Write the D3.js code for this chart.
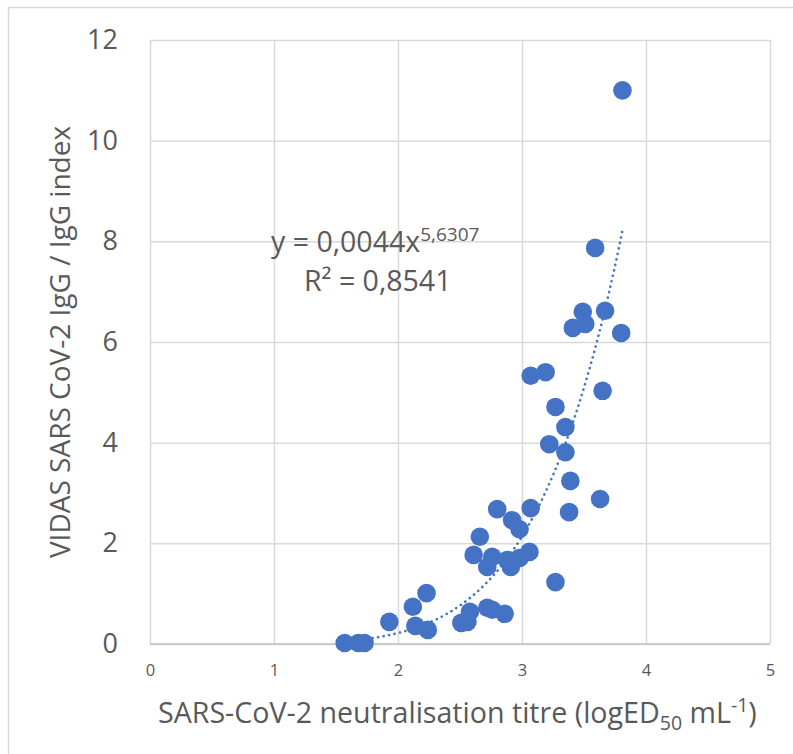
<!DOCTYPE html>
<html>
<head>
<meta charset="utf-8">
<script src="https://cdn.jsdelivr.net/npm/d3@7"></script>
<style>
  body { margin: 0; background: #fff; }
  text { font-family: "Open Sans", sans-serif; fill: #595959; }
</style>
</head>
<body>
<div id="chart"></div>
<script>
// titre values (logED50 mL-1)
let titre = [1.57, 1.68, 1.73, 1.93, 2.12, 2.23, 2.14, 2.24, 2.51, 2.56, 2.58, 2.72, 2.76, 2.86,
    2.66, 2.61, 2.76, 2.72, 2.88, 2.91, 2.98, 3.06, 2.80, 2.92, 2.98, 3.07, 3.27, 3.38, 3.39,
    3.63, 3.22, 3.35, 3.35, 3.27, 3.07, 3.19, 3.65, 3.41, 3.51, 3.49, 3.67, 3.80, 3.59, 3.81];
// VIDAS IgG index
let igg = [0.02, 0.02, 0.02, 0.44, 0.74, 1.01, 0.36, 0.28, 0.42, 0.44, 0.64, 0.72, 0.68, 0.60,
    2.13, 1.77, 1.73, 1.53, 1.67, 1.53, 1.71, 1.83, 2.68, 2.46, 2.28, 2.70, 1.23, 2.62, 3.24,
    2.88, 3.97, 3.81, 4.31, 4.71, 5.33, 5.40, 5.03, 6.28, 6.36, 6.60, 6.62, 6.18, 7.87, 11.0];

let xTicks = [0, 1, 2, 3, 4, 5];
let yTicks = [0, 2, 4, 6, 8, 10, 12];

// power trendline y = a * x^b
let trendA = 0.0044;
let trendB = 5.6307;

let svgWidth = 793;
let svgHeight = 754;

let chartMargin = { top: 40, right: 23, bottom: 110, left: 150 };
let chartWidth = 620;
let chartHeight = 604;

let svg = d3.select("#chart")
    .append("svg")
    .attr("width", svgWidth)
    .attr("height", svgHeight);

// outer frame
svg.append("rect")
    .attr("x", 8.5).attr("y", 7.5)
    .attr("width", 790).attr("height", 760)
    .attr("fill", "none")
    .attr("stroke", "#d9d9d9")
    .attr("stroke-width", 1.5);

let chartGroup = svg.append("g")
    .attr("transform", `translate(${chartMargin.left}, ${chartMargin.top})`);

let xLinearScale = d3.scaleLinear().domain([0, 5]).range([0, chartWidth]);
let yLinearScale = d3.scaleLinear().domain([0, 12]).range([chartHeight, 0]);

// gridlines
chartGroup.append("g")
    .call(d3.axisBottom(xLinearScale).tickValues(xTicks).tickSize(chartHeight).tickFormat(""))
    .call(g => g.select(".domain").remove())
    .selectAll("line").attr("stroke", "#d9d9d9").attr("stroke-width", 1.5);

chartGroup.append("g")
    .call(d3.axisLeft(yLinearScale).tickValues(yTicks).tickSize(-chartWidth).tickFormat(""))
    .call(g => g.select(".domain").remove())
    .selectAll("line").attr("stroke", "#d9d9d9").attr("stroke-width", 1.5);

// axis line
chartGroup.append("line")
    .attr("x1", 0).attr("x2", chartWidth)
    .attr("y1", chartHeight).attr("y2", chartHeight)
    .attr("stroke", "#bfbfbf").attr("stroke-width", 1.5);

// tick labels
let bottomAxis = chartGroup.append("g")
    .attr("transform", `translate(0, ${chartHeight})`)
    .call(d3.axisBottom(xLinearScale).tickValues(xTicks).tickSize(0).tickPadding(20).tickFormat(d3.format("d")));
bottomAxis.select(".domain").remove();
bottomAxis.selectAll("text")
    .style("font-size", "16.5px")
    .style("fill", "#595959");

let leftAxis = chartGroup.append("g")
    .call(d3.axisLeft(yLinearScale).tickValues(yTicks).tickSize(0).tickPadding(32));
leftAxis.select(".domain").remove();
leftAxis.selectAll("text")
    .style("font-size", "27px")
    .style("fill", "#595959");

// trendline (dotted)
let trendX = d3.range(d3.min(titre), d3.max(titre) + 0.0001, 0.01);
let trendLine = d3.line()
    .x(d => xLinearScale(d))
    .y(d => yLinearScale(trendA * Math.pow(d, trendB)));

chartGroup.append("path")
    .datum(trendX)
    .attr("d", trendLine)
    .attr("fill", "none")
    .attr("stroke", "#4472C4")
    .attr("stroke-width", 2.6)
    .attr("stroke-linecap", "round")
    .attr("stroke-dasharray", "0.1 5.5");

// points
chartGroup.selectAll("circle")
    .data(titre)
    .enter()
    .append("circle")
    .attr("cx", (d, i) => xLinearScale(d))
    .attr("cy", (d, i) => yLinearScale(igg[i]))
    .attr("r", 9.3)
    .attr("fill", "#4472C4");

// equation label
let eq = chartGroup.append("text")
    .attr("x", 121)
    .attr("y", 212)
    .style("font-size", "28.5px");
eq.append("tspan").text("y = 0,0044x");
eq.append("tspan").attr("dy", -11).style("font-size", "19px").text("5,6307");

chartGroup.append("text")
    .attr("x", 154)
    .attr("y", 251)
    .style("font-size", "28.5px")
    .text("R² = 0,8541");

// x axis label
let xLabel = svg.append("text")
    .attr("x", 158)
    .attr("y", 723)
    .style("font-size", "28.6px");
xLabel.append("tspan").text("SARS-CoV-2 neutralisation titre (logED");
xLabel.append("tspan").attr("dy", 7).style("font-size", "19.5px").text("50");
xLabel.append("tspan").attr("dy", -7).text(" mL");
xLabel.append("tspan").attr("dy", -11).style("font-size", "19.5px").text("-1");
xLabel.append("tspan").attr("dy", 11).text(")");

// y axis label
svg.append("text")
    .attr("transform", "translate(70, 342) rotate(-90)")
    .attr("text-anchor", "middle")
    .style("font-size", "28px")
    .text("VIDAS SARS CoV-2 IgG / IgG index");
</script>
</body>
</html>
